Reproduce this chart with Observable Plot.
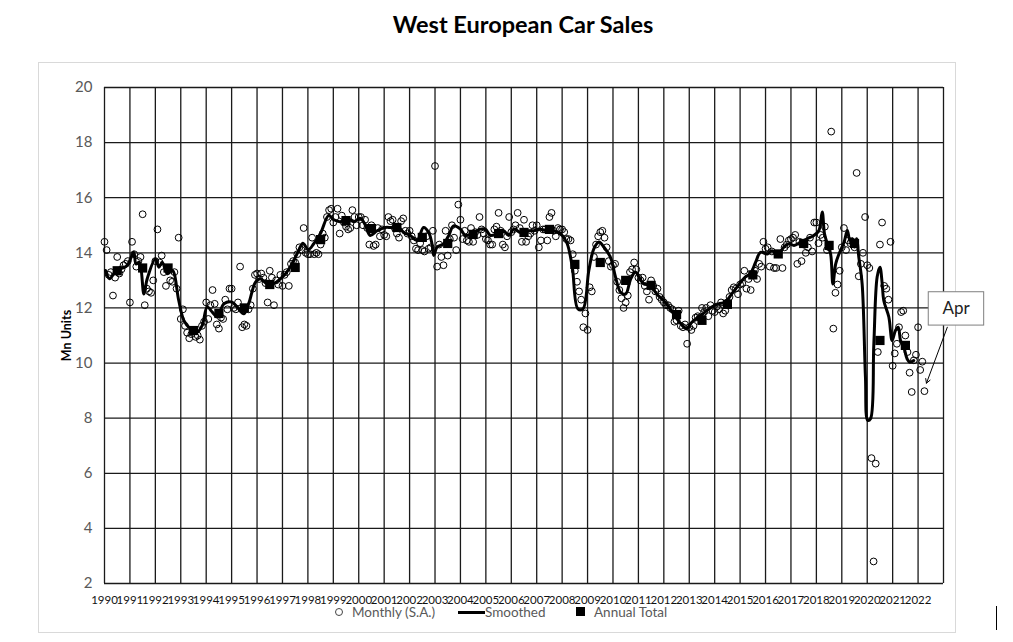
<!DOCTYPE html>
<html><head><meta charset="utf-8">
<script src="https://cdn.jsdelivr.net/npm/d3@7"></script>
<script src="https://cdn.jsdelivr.net/npm/@observablehq/plot@0.6"></script>
<style>
body{margin:0;background:#fff;font-family:Lato,"Open Sans",sans-serif;}
#wrap{position:relative;width:1013px;height:642px;overflow:hidden;}
#frame{position:absolute;left:38px;top:62px;width:918px;height:571px;border:1px solid #d9d9d9;box-sizing:border-box;}
#title{position:absolute;top:10px;left:0;width:1046px;text-align:center;font-weight:bold;font-size:23.5px;color:#000;font-family:Lato,sans-serif;}
#chart{position:absolute;left:0;top:46px;}
#legend{position:absolute;top:604px;left:0;width:1013px;height:18px;font-size:13.5px;color:#595959;font-family:Lato,sans-serif;}
#legend span{position:absolute;top:0;line-height:16px;}
#mark{position:absolute;left:996px;top:606px;width:1px;height:24px;background:#000;}
g[aria-label="y-axis label"] text{fill:#000;font-weight:bold;font-size:12.5px;}
</style></head>
<body>
<div id="wrap">
  <div id="frame"></div>
  <div id="title">West European Car Sales</div>
  <div id="chart"></div>
  <div id="legend">
    <span style="left:335px;top:4px;width:6px;height:6px;border:1px solid #444;border-radius:50%;"></span>
    <span style="left:352px;">Monthly (S.A.)</span>
    <span style="left:458px;top:7px;width:27px;height:3px;background:#000;"></span>
    <span style="left:485px;">Smoothed</span>
    <span style="left:576px;top:3px;width:9px;height:9px;background:#000;"></span>
    <span style="left:594px;">Annual Total</span>
  </div>
  <div id="mark"></div>
</div>
<script>
// Monthly seasonally adjusted sales (Mn units, annualised), Jan 1990 onwards
const monthly1990s = [
  14.4, 14.1, 13.2, 13.3, 12.45, 13.1, 13.85, 13.25, 13.4, 13.55, 13.6, 13.7,
  12.2, 14.4, 13.95, 13.5, 13.7, 13.85, 15.4, 12.1, 12.7, 12.6, 12.55, 13.0,
  13.7, 14.85, 13.65, 13.9, 13.3, 12.8, 13.4, 13.0, 12.95, 13.3, 12.7, 14.55,
  11.6, 11.95, 11.35, 11.1, 10.9, 11.05, 11.2, 10.95, 11.0, 10.85, 11.35, 11.5,
  12.2, 11.6, 12.1, 12.65, 12.15, 11.4, 11.25, 11.65, 11.6, 12.3, 11.95, 12.7,
  12.7, 12.0, 11.95, 12.2, 13.5, 11.3, 11.4, 11.35, 11.95, 12.1, 12.7, 13.2,
  13.25, 13.05, 13.25, 13.1, 12.9, 12.2, 13.35, 13.1, 12.1, 13.0, 12.85, 13.2,
  12.8, 13.2, 13.3, 12.8, 13.6, 13.7, 13.65, 13.95, 14.2, 14.1, 14.9, 14.0,
  13.95, 13.95, 14.55, 13.95, 14.0, 13.95, 14.3, 14.7, 14.55, 15.3, 15.55, 15.6,
  15.1, 15.3, 15.6, 14.7, 15.35, 15.1, 14.95, 14.85, 14.9, 15.55, 15.3, 15.0
];
const monthly2000s = [
  15.3, 15.3, 15.0, 15.2, 14.9, 14.3, 15.0, 14.25, 14.3, 14.9, 14.6, 14.85,
  14.65, 14.6, 15.3, 15.15, 15.2, 14.9, 14.7, 14.55, 15.15, 15.25, 14.8, 14.7,
  14.8, 14.6, 14.45, 14.15, 14.1, 14.35, 14.1, 14.05, 14.6, 14.15, 14.2, 14.8,
  17.15, 13.5, 14.3, 13.85, 13.55, 14.8, 13.9, 14.5, 15.0, 14.55, 14.1, 15.75,
  15.2, 14.5, 14.8, 14.45, 14.4, 14.9, 14.4, 14.75, 14.65, 15.3, 14.85, 14.7,
  14.5, 14.45, 14.3, 14.3, 14.85, 14.95, 15.45, 14.8, 14.3, 14.2, 14.6, 15.3,
  14.75, 14.85, 15.0, 15.45, 14.9, 14.4, 15.2, 14.4, 14.6, 14.7, 15.0, 14.8,
  15.0, 14.2, 14.45, 14.85, 14.85, 14.45, 15.3, 15.45, 14.8, 14.6, 14.9, 14.85,
  14.85, 14.75, 14.5, 14.5, 14.45, 13.95, 13.35, 12.95, 12.6, 12.3, 11.3, 11.8,
  11.2, 12.75, 12.6, 13.85, 14.3, 14.6, 14.75, 14.8, 14.55, 14.2, 13.7, 13.5
];
const monthly2010s = [
  13.55, 13.6, 12.95, 12.65, 12.35, 12.0, 12.2, 12.45, 13.3, 13.4, 13.65, 13.4,
  13.1, 13.0, 13.1, 12.8, 12.6, 12.3, 13.0, 12.8, 12.6, 12.7, 12.4, 12.3,
  12.2, 12.1, 12.1, 12.0, 11.95, 11.5, 11.55, 11.9, 11.35, 11.3, 11.4, 10.7,
  11.3, 11.2, 11.35, 11.65, 11.7, 11.65, 12.0, 11.85, 12.0, 11.7, 12.1, 11.9,
  11.85, 12.05, 11.95, 12.2, 11.8, 11.9, 12.2, 12.4, 12.65, 12.75, 12.7, 12.5,
  12.85, 12.9, 13.35, 12.7, 13.05, 12.65, 13.25, 13.35, 13.05, 13.6, 13.5, 14.4,
  14.15, 14.2, 13.5, 14.05, 13.45, 13.45, 13.95, 14.5, 13.45, 14.2, 14.3, 14.45,
  14.5, 14.55, 14.65, 13.6, 14.4, 13.7, 14.3, 14.0, 14.2, 14.55, 14.05, 15.1,
  15.1, 14.35, 14.65, 14.55, 14.95, 14.1, 14.2, 18.4, 11.25, 12.55, 12.85, 13.35,
  14.2, 14.9, 14.1, 14.45, 14.35, 14.4, 14.2, 16.9, 13.15, 13.6, 14.0, 15.3
];
const monthly2020s = [
  13.55, 13.45, 6.55, 2.8, 6.35, 10.4, 14.3, 15.1, 12.8, 12.7, 12.3, 14.4,
  9.9, 10.35, 10.7, 11.3, 11.85, 11.9, 11.0, 10.4, 9.65, 8.95, 10.1, 10.3,
  11.3, 9.75, 10.05, 8.98
];

// Smoothed series (decimal year, Mn units)
const smoothYears = [
  1990.04, 1990.2, 1990.4, 1990.63, 1990.89, 1991.15, 1991.24, 1991.37, 1991.55, 1991.68,
  1992.0, 1992.14, 1992.27, 1992.47, 1992.67, 1992.92, 1993.12, 1993.38, 1993.64, 1993.84,
  1994.04, 1994.24, 1994.43, 1994.7, 1995.02, 1995.22, 1995.48, 1995.67, 1995.94, 1996.13,
  1996.39, 1996.65, 1996.92, 1997.12, 1997.38, 1997.64, 1997.8, 1998.02, 1998.23, 1998.49,
  1998.82, 1999.02, 1999.28, 1999.54, 1999.81, 2000.07, 2000.26, 2000.45, 2000.72, 2001.05,
  2001.31, 2001.5, 2001.77, 2002.03, 2002.29, 2002.55, 2002.75, 2002.88, 2002.95, 2003.08,
  2003.34, 2003.54, 2003.73, 2004.0, 2004.19, 2004.45, 2004.78, 2004.98, 2005.18, 2005.44,
  2005.7, 2005.9, 2006.1, 2006.36, 2006.62, 2006.88, 2007.14, 2007.4, 2007.67, 2008.0,
  2008.2, 2008.4, 2008.62, 2008.82, 2009.05, 2009.25, 2009.45, 2009.64, 2009.9, 2010.1,
  2010.3, 2010.5, 2010.7, 2010.89, 2011.02, 2011.2, 2011.46, 2011.72, 2011.99, 2012.25,
  2012.51, 2012.79, 2012.9, 2013.1, 2013.36, 2013.62, 2013.88, 2014.15, 2014.41, 2014.67,
  2014.93, 2015.2, 2015.4, 2015.61, 2015.8, 2016.07, 2016.26, 2016.46, 2016.72, 2016.92,
  2017.12, 2017.38, 2017.64, 2017.9, 2018.1, 2018.23, 2018.32, 2018.43, 2018.56, 2018.65,
  2018.76, 2018.89, 2019.09, 2019.22, 2019.32, 2019.41, 2019.5, 2019.58, 2019.67, 2019.8,
  2019.93, 2020.02, 2020.13, 2020.26, 2020.39, 2020.5, 2020.59, 2020.65, 2020.85, 2020.98,
  2021.11, 2021.22, 2021.31, 2021.44, 2021.57, 2021.68, 2021.83
];
const smoothValues = [
  13.36, 13.06, 13.28, 13.42, 13.54, 14.02, 13.6, 13.66, 12.51, 13.06,
  13.78, 13.48, 13.66, 13.24, 13.36, 12.27, 11.55, 11.24, 11.12, 11.36,
  12.03, 11.85, 11.67, 12.15, 12.21, 12.03, 11.79, 12.15, 12.94, 13.06,
  12.88, 12.88, 13.06, 13.24, 13.6, 14.09, 14.35, 14.12, 14.33, 14.69,
  15.36, 15.2, 15.13, 15.25, 15.13, 15.25, 15.0, 14.63, 14.8, 14.92,
  14.92, 14.98, 14.74, 14.63, 14.45, 14.92, 14.74, 14.33, 13.9, 14.21,
  14.33, 14.63, 14.98, 14.86, 14.63, 14.69, 14.86, 14.86, 14.63, 14.69,
  14.8, 14.63, 14.86, 14.74, 14.8, 14.8, 14.86, 14.8, 14.8, 14.63,
  14.33, 13.48, 11.97, 11.97, 13.36, 14.15, 14.39, 14.21, 13.84, 13.12,
  12.57, 12.51, 13.06, 13.3, 13.12, 12.88, 12.82, 12.51, 12.27, 11.97,
  11.61, 11.3, 11.24, 11.48, 11.67, 11.85, 12.03, 12.15, 12.21, 12.51,
  12.82, 13.12, 13.24, 13.66, 14.02, 13.96, 14.08, 13.9, 14.21, 14.33,
  14.27, 14.39, 14.51, 14.63, 14.81, 15.48, 14.69, 14.33, 13.96, 12.87,
  13.6, 13.96, 14.39, 14.81, 14.45, 14.51, 14.21, 14.51, 13.84, 12.87,
  9.49, 7.92, 7.98, 10.7, 13.12, 13.48, 12.87, 12.27, 11.67, 10.82,
  11.18, 11.3, 10.82, 10.57, 10.15, 10.03, 10.09
];

// Annual totals (Mn units)
const annualYears = [1990,1991,1992,1993,1994,1995,1996,1997,1998,1999,2000,2001,2002,2003,2004,2005,
  2006,2007,2008,2009,2010,2011,2012,2013,2014,2015,2016,2017,2018,2019,2020,2021];
const annualTotals = [13.35,13.45,13.45,11.18,11.8,12.0,12.85,13.47,14.48,15.17,14.88,14.92,14.56,14.34,14.67,14.7,
  14.74,14.85,13.58,13.65,13.0,12.82,11.76,11.55,12.13,13.2,13.96,14.34,14.27,14.34,10.82,10.64];

// Axes
const yearLabels = d3.range(1990, 2023);
const gridYears = d3.range(1990, 2024);
const yTicks = d3.range(2, 21, 2);

// Annotation (data units)
const aprLabel = "Apr";
const aprBox = [{x1: 2022.42, x2: 2024.6, y1: 11.36, y2: 12.57}];
const aprArrow = [{x1: 2023.15, y1: 11.3, x2: 2022.33, y2: 9.27}];

const monthlyData = [];
[[1990, monthly1990s], [2000, monthly2000s], [2010, monthly2010s], [2020, monthly2020s]]
  .forEach(([start, arr]) => arr.forEach((v, i) => monthlyData.push({date: start + i / 12, value: v})));
const smoothData = smoothYears.map((x, i) => ({date: x, value: smoothValues[i]}));
const annualData = annualYears.map((y, i) => ({date: y + 0.5, value: annualTotals[i]}));

const chart = Plot.plot({
  width: 1013,
  height: 560,
  marginLeft: 104,
  marginRight: 70,
  marginTop: 41,
  marginBottom: 23,
  style: {fontFamily: "Lato, sans-serif", background: "transparent", overflow: "visible"},
  x: {domain: [1990, 2023]},
  y: {domain: [2, 20]},
  marks: [
    Plot.ruleY(yTicks, {stroke: "#1a1a1a", strokeWidth: 1.3}),
    Plot.ruleX(gridYears, {stroke: "#1a1a1a", strokeWidth: 1.3}),
    Plot.axisX(yearLabels, {tickSize: 0, tickPadding: 12, tickFormat: d => String(d), fontSize: 11.5, color: "#111", label: null}),
    Plot.axisY(yTicks, {tickSize: 0, tickPadding: 12, fontSize: 15, color: "#595959", label: "Mn Units", labelAnchor: "center", labelOffset: 42, labelArrow: "none"}),
    Plot.dot(monthlyData, {x: "date", y: "value", r: 3.4, stroke: "#000", strokeWidth: 1, fill: "none"}),
    Plot.line(smoothData, {x: "date", y: "value", stroke: "#000", strokeWidth: 3, curve: "catmull-rom"}),
    Plot.dot(annualData, {x: "date", y: "value", symbol: "square", r: 5.2, fill: "#000"}),
    Plot.rect(aprBox, {x1: "x1", x2: "x2", y1: "y1", y2: "y2", fill: "#fff", stroke: "#7f7f7f", strokeWidth: 1}),
    Plot.text([aprLabel], {x: 2023.5, y: 11.97, text: d => d, fontSize: 17, fill: "#222"}),
    Plot.arrow(aprArrow, {x1: "x1", y1: "y1", x2: "x2", y2: "y2", stroke: "#000", strokeWidth: 1, headLength: 7})
  ]
});
document.getElementById("chart").appendChild(chart);
</script>
</body></html>
